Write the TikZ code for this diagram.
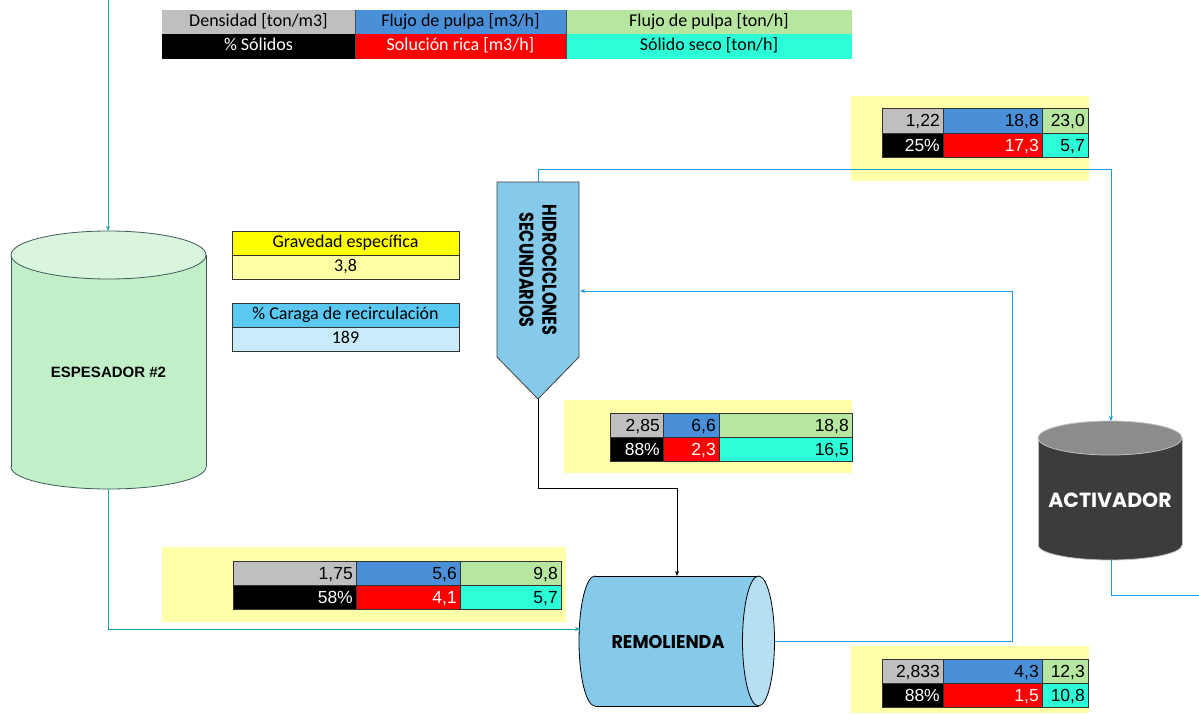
\documentclass[tikz,border=0pt]{standalone}
\usepackage{fontspec}
\setmainfont{Liberation Sans}
\newfontfamily\legfont{Carlito}
\newfontfamily\popfont{Poppins}
\usetikzlibrary{arrows.meta}
\definecolor{cgrey}{HTML}{BFBFBF}
\definecolor{cblue}{HTML}{4A90D9}
\definecolor{cgreen}{HTML}{B7E6A0}
\definecolor{cred}{HTML}{FF0000}
\definecolor{caqua}{HTML}{2CFFD8}
\definecolor{bgyel}{HTML}{FFFFAA}
\definecolor{gyel}{HTML}{FFFF00}
\definecolor{gyellight}{HTML}{FFFFA6}
\definecolor{rcblue}{HTML}{5BC8F2}
\definecolor{rclight}{HTML}{C9ECFA}
\definecolor{espbody}{HTML}{C1EFC8}
\definecolor{esptop}{HTML}{DAF5DE}
\definecolor{espline}{HTML}{3F5A5A}
\definecolor{hydro}{HTML}{85CAEA}
\definecolor{remlight}{HTML}{B6DFF2}
\definecolor{actbody}{HTML}{3C3C3C}
\definecolor{acttop}{HTML}{8C8C8C}
\definecolor{teal}{HTML}{21A0AA}
\definecolor{lineblue}{HTML}{1E9BD7}
\newcommand\numcell[8]{%
  \draw[tabline,fill=#6] (#2,#3) rectangle (#4,#5);
  \node[numtxt,text=#7,anchor=east] (#1) at ({#4-2},{(#3+#5)/2}) {#8};}
\newcommand\legcell[8]{%
  \fill[#6] (#2,#3) rectangle (#4,#5);
  \node[legtxt,text=#7] (#1) at ({(#2+#4)/2},{(#3+#5)/2}) {#8};}
\begin{document}
\begin{tikzpicture}[x=1pt,y=-1pt,
  tabline/.style={draw=black!80,line width=0.9pt},
  numtxt/.style={font=\fontsize{17.5}{19}\selectfont,inner sep=1pt,text height=12.5pt,text depth=0pt},
  legtxt/.style={font=\legfont\fontsize{18}{20}\selectfont,inner sep=0pt,text height=12pt,text depth=3.5pt},
  boxtxt/.style={font=\legfont\fontsize{18}{20}\selectfont,inner sep=0pt,text height=12pt,text depth=3.5pt},
  tealarrow/.style={draw=teal,line width=1pt,-{Stealth[length=5pt,width=4pt]}},
  bluearrow/.style={draw=lineblue,line width=1pt,-{Stealth[length=5pt,width=4pt]}},
  blackarrow/.style={draw=black,line width=1pt,-{Stealth[length=5pt,width=4pt]}},
  bgbox/.style={fill=bgyel},
  eqlabel/.style={font=\popfont\bfseries,inner sep=0pt}]
\useasboundingbox[fill=white] (0,0) rectangle (1199,714);

% ---------- legend ----------
\legcell{lg1}{162}{10}{355}{34}{cgrey}{black}{Densidad [ton/m3]}
\legcell{lg2}{355}{10}{566}{34}{cblue}{black}{Flujo de pulpa [m3/h]}
\legcell{lg3}{566}{10}{852}{34}{cgreen}{black}{Flujo de pulpa [ton/h]}
\legcell{lg4}{162}{34}{355}{59}{black}{white}{\% Sólidos}
\legcell{lg5}{355}{34}{566}{59}{cred}{white}{Solución rica [m3/h]}
\legcell{lg6}{566}{34}{852}{59}{caqua}{black}{Sólido seco [ton/h]}
\draw[black!70,line width=0.6pt] (355,10) -- (355,59) (566,10) -- (566,59);

% ---------- parameter boxes ----------
\draw[tabline,fill=gyel] (232,231) rectangle (459,255);
\draw[tabline,fill=gyellight] (232,255) rectangle (459,279);
\node[boxtxt] (ge) at (345.5,243) {Gravedad específica};
\node[boxtxt] (gev) at (345.5,267) {3,8};
\draw[tabline,fill=rcblue] (232,303) rectangle (459,327);
\draw[tabline,fill=rclight] (232,327) rectangle (459,351);
\node[boxtxt] (rc) at (345.5,315) {\% Caraga de recirculación};
\node[boxtxt] (rcv) at (345.5,339) {189};

% ---------- data tables ----------
% top right
\fill[bgbox] (851,96) rectangle (1089,181);
\numcell{t1a}{882}{108}{943}{133}{cgrey}{black}{1,22}
\numcell{t1b}{943}{108}{1042}{133}{cblue}{black}{18,8}
\numcell{t1c}{1042}{108}{1088}{133}{cgreen}{black}{23,0}
\numcell{t1d}{882}{133}{943}{157}{black}{white}{25\%}
\numcell{t1e}{943}{133}{1042}{157}{cred}{white}{17,3}
\numcell{t1f}{1042}{133}{1088}{157}{caqua}{black}{5,7}
% middle
\fill[bgbox] (564,400) rectangle (852,473);
\numcell{t2a}{610}{413}{663}{437}{cgrey}{black}{2,85}
\numcell{t2b}{663}{413}{719}{437}{cblue}{black}{6,6}
\numcell{t2c}{719}{413}{852}{437}{cgreen}{black}{18,8}
\numcell{t2d}{610}{437}{663}{461}{black}{white}{88\%}
\numcell{t2e}{663}{437}{719}{461}{cred}{white}{2,3}
\numcell{t2f}{719}{437}{852}{461}{caqua}{black}{16,5}
% bottom left
\fill[bgbox] (162,547) rectangle (566,622);
\numcell{t3a}{233}{561}{356}{585}{cgrey}{black}{1,75}
\numcell{t3b}{356}{561}{460}{585}{cblue}{black}{5,6}
\numcell{t3c}{460}{561}{561}{585}{cgreen}{black}{9,8}
\numcell{t3d}{233}{585}{356}{609}{black}{white}{58\%}
\numcell{t3e}{356}{585}{460}{609}{cred}{white}{4,1}
\numcell{t3f}{460}{585}{561}{609}{caqua}{black}{5,7}
% bottom right
\fill[bgbox] (851,646) rectangle (1089,713);
\numcell{t4a}{882}{659}{943}{683}{cgrey}{black}{2,833}
\numcell{t4b}{943}{659}{1042}{683}{cblue}{black}{4,3}
\numcell{t4c}{1042}{659}{1088}{683}{cgreen}{black}{12,3}
\numcell{t4d}{882}{683}{943}{707}{black}{white}{88\%}
\numcell{t4e}{943}{683}{1042}{707}{cred}{white}{1,5}
\numcell{t4f}{1042}{683}{1088}{707}{caqua}{black}{10,8}

% ---------- ESPESADOR #2 ----------
\draw[espline,line width=0.8pt,fill=espbody] (108.5,467) ellipse [x radius=97.5,y radius=22];
\fill[espbody] (11,255) rectangle (206,467);
\draw[espline,line width=0.8pt] (11,255) -- (11,467) (206,255) -- (206,467);
\draw[espline,line width=0.8pt,fill=esptop] (108.5,255) ellipse [x radius=97.5,y radius=24];
\node[font=\bfseries\fontsize{15}{17}\selectfont,inner sep=0pt] (esp) at (108.5,372) {ESPESADOR \#2};
\coordinate (esptop) at (108,231);
\coordinate (espbot) at (108,489);

% ---------- HIDROCICLONES ----------
\draw[black!75,line width=0.8pt,fill=hydro] (497,182) -- (579,182) -- (579,357) -- (538,399) -- (497,357) -- cycle;
\node[eqlabel,rotate=-90,align=center,font=\popfont\bfseries\fontsize{20}{23}\selectfont] (hid) at (538,270)
  {\scalebox{0.8}[1]{HIDROCICLONES}\\\scalebox{0.8}[1]{SECUNDARIOS}};
\coordinate (hidtop) at (538,182);
\coordinate (hidtip) at (538,399);
\coordinate (hidright) at (580,291);

% ---------- REMOLIENDA ----------
\draw[black,line width=0.8pt,fill=hydro] (595,641) ellipse [x radius=16,y radius=65];
\fill[hydro] (595,576) rectangle (758.5,706);
\draw[black,line width=0.8pt] (595,576) -- (758.5,576) (595,706) -- (758.5,706);
\draw[black,line width=0.8pt,fill=remlight] (758.5,641) ellipse [x radius=16,y radius=65];
\node[eqlabel,font=\popfont\bfseries\fontsize{18.5}{20}\selectfont] (rem) at (668,642) {\scalebox{0.95}[1]{REMOLIENDA}};
\coordinate (remin) at (580,629);
\coordinate (remtop) at (677,576);
\coordinate (remout) at (775,641);

% ---------- ACTIVADOR ----------
\draw[black!25,line width=0.8pt,fill=actbody] (1110,545) ellipse [x radius=72,y radius=15];
\fill[actbody] (1038,438) rectangle (1182,545);
\draw[black!25,line width=0.8pt] (1038,438) -- (1038,545) (1182,438) -- (1182,545);
\draw[black!25,line width=0.8pt,fill=acttop] (1110,438) ellipse [x radius=72,y radius=17];
\node[eqlabel,text=white,font=\popfont\bfseries\fontsize{20.5}{22}\selectfont] (act) at (1110,500) {ACTIVADOR};
\coordinate (acttop) at (1111,421);
\coordinate (actbot) at (1111,560);

% ---------- connectors ----------
\coordinate (src) at (108,0);
\coordinate (out) at (1199,595);
\draw[tealarrow] (src) -- (esptop);
\draw[tealarrow] (espbot) |- (remin);
\draw[bluearrow] (hidtop) -- ++(0,-12) -| (acttop);
\draw[blackarrow] (hidtip) -- ++(0,89) -| (remtop);
\draw[bluearrow] (remout) -- ++(237,0) |- (hidright);
\draw[draw=lineblue,line width=1pt] (actbot) |- (out);
\end{tikzpicture}
\end{document}
